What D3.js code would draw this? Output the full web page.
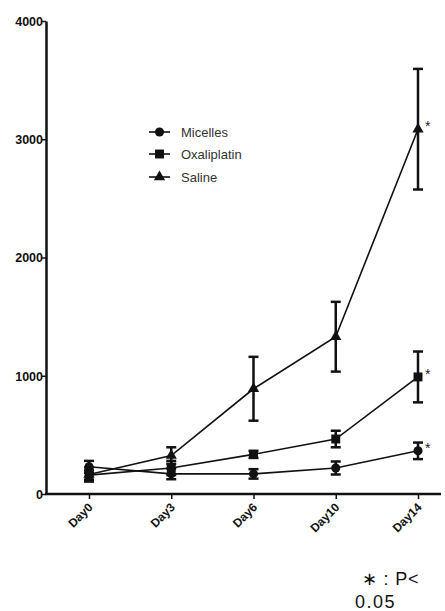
<!DOCTYPE html>
<html><head><meta charset="utf-8">
<script src="https://cdn.jsdelivr.net/npm/d3@7"></script>
<style>body{margin:0;background:#fff;}svg{display:block;}</style>
</head><body>
<svg id="c" width="445" height="611"></svg>
<script>
const days = ["Day0","Day3","Day6","Day10","Day14"];
const seriesNames = ["Micelles","Oxaliplatin","Saline"];
const micelles = [230,170,170,220,365];
const micellesErr = [50,45,40,55,70];
const oxaliplatin = [160,220,335,465,990];
const oxaliplatinErr = [40,60,30,70,215];
const saline = [165,325,890,1330,3085];
const salineErr = [60,70,270,295,510];
const yTicks = [0,1000,2000,3000,4000];
const sigMarks = ["*","*","*"];
const footnote = ["\u2217 : P<","0.05"];

const series = [
  {name:seriesNames[0], vals:micelles, err:micellesErr, sym:d3.symbolCircle, size:65},
  {name:seriesNames[1], vals:oxaliplatin, err:oxaliplatinErr, sym:d3.symbolSquare, size:80},
  {name:seriesNames[2], vals:saline, err:salineErr, sym:d3.symbolTriangle, size:55}
];

const svg = d3.select("#c");
const x = d3.scalePoint().domain(days).range([89,418]);
const y = d3.scaleLinear().domain([0,4000]).range([494,21]);

// y axis
const yAx = svg.append("g").attr("transform","translate(46,0)")
  .call(d3.axisLeft(y).tickValues(yTicks).tickSize(4).tickSizeOuter(0).tickFormat(d3.format("d")));
yAx.select(".domain").attr("stroke","#111").attr("stroke-width",2.5);
yAx.selectAll(".tick line").attr("stroke","#111").attr("stroke-width",1.5);
yAx.selectAll(".tick text").attr("font-family","Liberation Sans, Arial, sans-serif")
  .attr("font-weight","bold").attr("font-size",12.5).attr("fill","#111").attr("x",-3).attr("dy","0.35em");

// x axis
const xAx = svg.append("g").attr("transform","translate(0,494)")
  .call(d3.axisBottom(x).tickSize(5).tickSizeOuter(0));
xAx.select(".domain").remove();
xAx.append("line").attr("x1",45).attr("x2",441).attr("y1",0).attr("y2",0)
  .attr("stroke","#111").attr("stroke-width",2.5);
xAx.selectAll(".tick line").attr("stroke","#111").attr("stroke-width",1.5);
xAx.selectAll(".tick text").attr("font-family","Liberation Sans, Arial, sans-serif")
  .attr("font-weight","bold").attr("font-size",12).attr("fill","#111")
  .attr("text-anchor","end").attr("dy",0).attr("y",0)
  .attr("transform","translate(4,14) rotate(-45)");

// lines, error bars, markers
const line = d3.line().x((d,i)=>x(days[i])).y(d=>y(d));
series.forEach((s,k)=>{
  const g = svg.append("g");
  g.append("path").datum(s.vals).attr("d",line).attr("fill","none")
    .attr("stroke","#111").attr("stroke-width",1.6);
  s.vals.forEach((v,i)=>{
    const cx = x(days[i]);
    const e = s.err[i];
    g.append("line").attr("x1",cx).attr("x2",cx).attr("y1",y(v+e)).attr("y2",y(v-e))
      .attr("stroke","#111").attr("stroke-width",2.5);
    [v+e,v-e].forEach(t=>g.append("line").attr("x1",cx-5).attr("x2",cx+5)
      .attr("y1",y(t)).attr("y2",y(t)).attr("stroke","#111").attr("stroke-width",2.5));
    g.append("path").attr("d",d3.symbol().type(s.sym).size(s.size)())
      .attr("transform",`translate(${cx},${y(v)})`).attr("fill","#111");
  });
  const last = s.vals.length-1;
  svg.append("text").attr("x",x(days[last])+7).attr("y",y(s.vals[last])+2)
    .attr("font-family","Liberation Sans, Arial, sans-serif").attr("font-size",14)
    .attr("fill","#222").text(sigMarks[k]);
});

// legend
const legY = [132,154,177];
series.forEach((s,k)=>{
  const g = svg.append("g").attr("transform",`translate(149,${legY[k]})`);
  g.append("line").attr("x1",0).attr("x2",21).attr("stroke","#111").attr("stroke-width",1.6);
  g.append("path").attr("d",d3.symbol().type(s.sym).size(s.size)())
    .attr("transform","translate(10.5,0)").attr("fill","#111");
  g.append("text").attr("x",32).attr("dy","0.35em")
    .attr("font-family","Liberation Sans, Arial, sans-serif").attr("font-size",13)
    .attr("fill","#333").text(s.name);
});

// footnote
svg.append("text").attr("x",362).attr("y",585)
  .attr("font-family","Liberation Sans, Arial, sans-serif").attr("font-size",18)
  .attr("letter-spacing",0.8).attr("fill","#111").text(footnote[0]);
svg.append("text").attr("x",355).attr("y",608)
  .attr("font-family","Liberation Sans, Arial, sans-serif").attr("font-size",18)
  .attr("letter-spacing",1.5).attr("fill","#111").text(footnote[1]);
</script>
</body></html>
